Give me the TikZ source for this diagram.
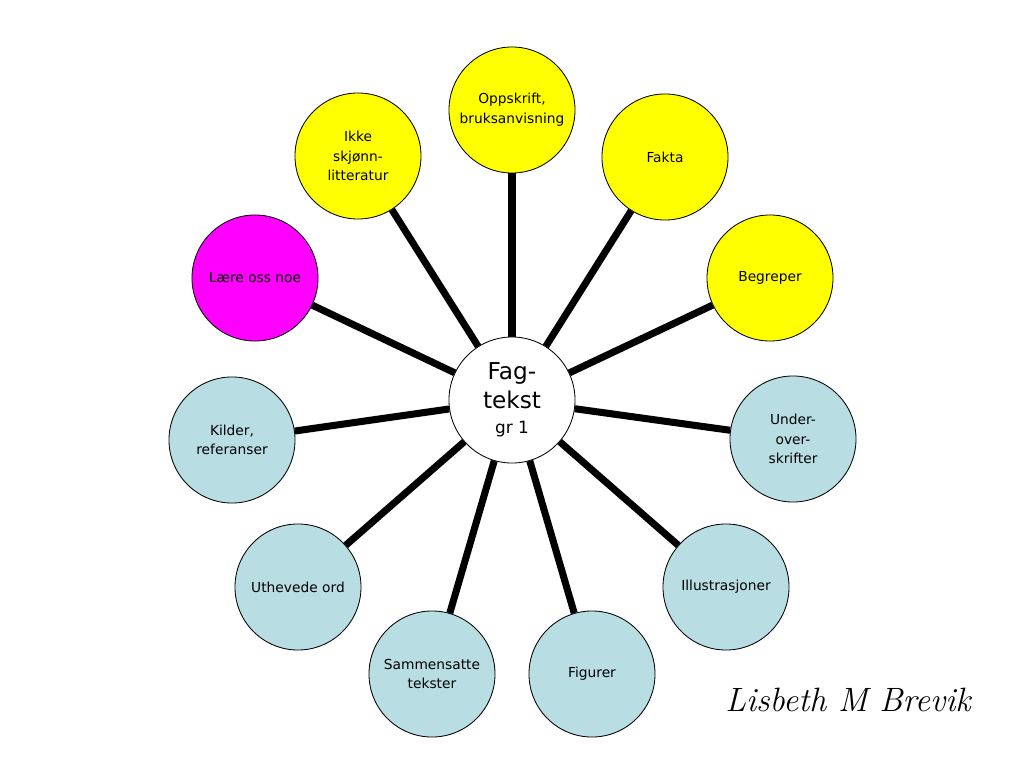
\documentclass[tikz,border=0pt]{standalone}
\usepackage{fontspec}
\setmainfont{DejaVu Sans}
\newfontfamily\signfont{Latin Modern Roman}
\definecolor{lyellow}{RGB}{255,255,0}
\definecolor{lmagenta}{RGB}{255,0,255}
\definecolor{lblue}{RGB}{184,221,226}

\begin{document}
\begin{tikzpicture}[x=0.025cm,y=-0.025cm,
    cnode/.style={draw,circle,line width=0.6pt,minimum size=3.15cm,inner sep=1pt,align=center,font=\fontsize{9.8}{14}\selectfont},
    spoke/.style={line width=5pt}]
    \useasboundingbox (0,0) rectangle (1024,768);

    \node[cnode,fill=white,font=\fontsize{16.5}{20}\selectfont] (c) at (512,400) {Fag-\\tekst\\[-2pt]{\fontsize{12}{14}\selectfont gr 1}};

    \node[cnode,fill=lyellow] (opp) at (512,110) {Oppskrift,\\bruksanvisning};
    \node[cnode,fill=lyellow] (fakta) at (665,157) {Fakta};
    \node[cnode,fill=lyellow] (begr) at (770,278) {Begreper};
    \node[cnode,fill=lblue] (under) at (793,439) {Under-\\over-\\skrifter};
    \node[cnode,fill=lblue] (illu) at (726,587) {Illustrasjoner};
    \node[cnode,fill=lblue] (fig) at (592,674) {Figurer};
    \node[cnode,fill=lblue] (samm) at (432,674) {Sammensatte\\tekster};
    \node[cnode,fill=lblue] (uthev) at (298,587) {Uthevede ord};
    \node[cnode,fill=lblue] (kilder) at (232,440) {Kilder,\\referanser};
    \node[cnode,fill=lmagenta] (laere) at (255,278) {Lære oss noe};
    \node[cnode,fill=lyellow] (ikke) at (358,156) {Ikke\\skjønn-\\litteratur};

    \foreach \n in {opp,fakta,begr,under,illu,fig,samm,uthev,kilder,laere,ikke}
        \draw[spoke] (c) -- (\n);

    \node (sign) at (848,700) {\signfont\itshape\fontsize{24}{26}\selectfont Lisbeth M Brevik};
\end{tikzpicture}
\end{document}
